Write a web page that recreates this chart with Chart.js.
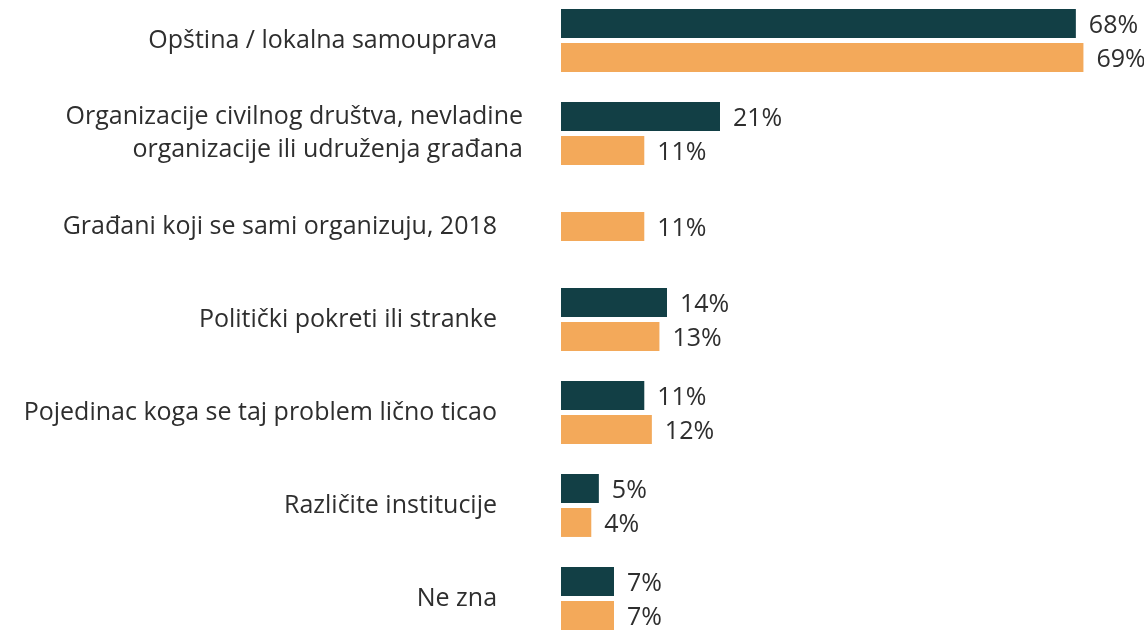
<!DOCTYPE html>
<html>
<head>
<meta charset="utf-8">
<script src="https://cdn.jsdelivr.net/npm/chart.js@4"></script>
<style>
  html, body { margin:0; padding:0; background:#fff; overflow:hidden; }
  #wrap { position:absolute; left:0; top:-6px; width:1144px; height:651px; }
</style>
</head>
<body>
<div id="wrap"><canvas id="chart"></canvas></div>
<script>
// categories (multi-line label as array)
const categories = [
  'Opština / lokalna samouprava',
  ['Organizacije civilnog društva, nevladine', 'organizacije ili udruženja građana'],
  'Građani koji se sami organizuju, 2018',
  'Politički pokreti ili stranke',
  'Pojedinac koga se taj problem lično ticao',
  'Različite institucije',
  'Ne zna'
];
const seriesA = [68, 21, null, 14, 11, 5, 7];   // dark teal
const seriesB = [69, 11, 11, 13, 12, 4, 7];     // orange

const textColor = '#2e2e2e';
const fontFamily = '"Open Sans", Roboto, sans-serif';

// value labels to the right of each bar
const valueLabels = {
  id: 'valueLabels',
  afterDatasetsDraw(chart){
    const ctx = chart.ctx;
    ctx.save();
    ctx.font = '25px ' + fontFamily;
    ctx.fillStyle = textColor;
    ctx.textAlign = 'left';
    ctx.textBaseline = 'middle';
    chart.data.datasets.forEach((ds, di) => {
      const meta = chart.getDatasetMeta(di);
      meta.data.forEach((bar, i) => {
        const v = ds.data[i];
        if (v == null) return;
        ctx.fillText(v + '%', bar.x + 13, bar.y + 2);
      });
    });
    ctx.restore();
  }
};

const barStyle = { categoryPercentage: 0.73, barPercentage: 0.853, maxBarThickness: 29 };

new Chart(document.getElementById('chart'), {
  type: 'bar',
  data: {
    labels: categories,
    datasets: [
      Object.assign({ label: 'A', data: seriesA, backgroundColor: '#123f45' }, barStyle),
      Object.assign({ label: 'B', data: seriesB, backgroundColor: '#f3a95a' }, barStyle)
    ]
  },
  options: {
    indexAxis: 'y',
    responsive: true,
    maintainAspectRatio: false,
    animation: false,
    skipNull: true,
    plugins: { legend: { display: false }, tooltip: { enabled: false } },
    scales: {
      x: { min: 0, max: 77, display: false },
      y: {
        grid: { display: false },
        border: { display: false },
        afterFit(scale){
          scale.width = 561;
          scale.paddingTop = 0;
          scale.paddingBottom = 0;
        },
        ticks: {
          color: textColor,
          font: { family: fontFamily, size: 25, lineHeight: 1.3 },
          padding: 30,
          autoSkip: false,
          // single-line labels sit a bit further left than the two-line one
          callback(value, index){
            const l = categories[index];
            return Array.isArray(l) ? l : l + '    ';
          }
        }
      }
    }
  },
  plugins: [valueLabels]
});
</script>
</body>
</html>
